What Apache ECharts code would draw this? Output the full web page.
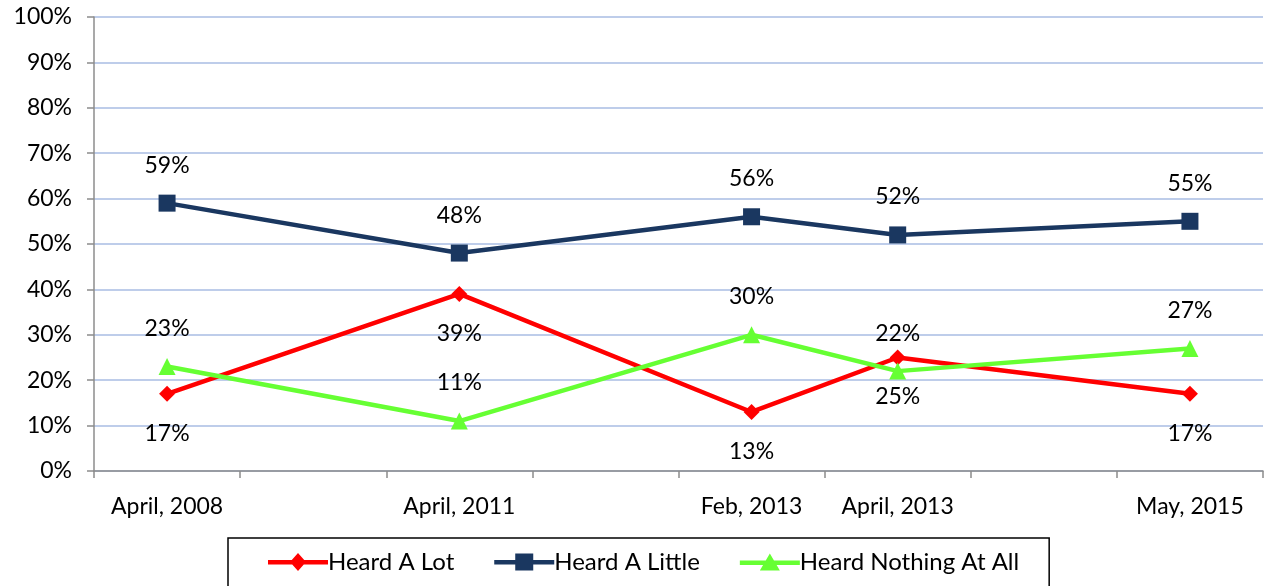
<!DOCTYPE html>
<html>
<head>
<meta charset="utf-8">
<script src="https://cdn.jsdelivr.net/npm/echarts@6/dist/echarts.min.js"></script>
<style>
  html, body { margin: 0; padding: 0; background: #fff; }
  #chart { width: 1267px; height: 586px; }
</style>
</head>
<body>
<div id="chart"></div>
<script>
// date axis: empty slots keep the spacing of the original time scale
const categories = ['April, 2008', '', 'April, 2011', '', 'Feb, 2013', 'April, 2013', '', 'May, 2015']
const heardLot = [17, null, 39, null, 13, 25, null, 17]
const heardLittle = [59, null, 48, null, 56, 52, null, 55]
const heardNothing = [23, null, 11, null, 30, 22, null, 27]
const yTicks = [0, 10, 20, 30, 40, 50, 60, 70, 80, 90, 100]

const font = 'Lato, "Open Sans", sans-serif'
const chart = echarts.init(document.getElementById('chart'))

// legend icons: thick line + marker, like the Excel legend
const bar = 'M0,7H60V11.5H0Z '
const icons = {
  diamond: 'path://' + bar + 'M30,0L38,9L30,18L22,9Z',
  rect: 'path://' + bar + 'M21,0.5H39V17.5H21Z',
  triangle: 'path://' + bar + 'M30,0L40,17H20Z',
}

const labelStyle = (pos, dist) => ({
  show: true,
  position: pos,
  distance: dist,
  formatter: p => p.value + '%',
  color: '#000',
  fontSize: 23,
  fontFamily: font,
})

const makeSeries = (name, data, color, symbol, size, pos, dist) => ({
  name,
  type: 'line',
  data,
  connectNulls: true,
  symbol,
  symbolSize: size,
  lineStyle: { color, width: 4.5 },
  itemStyle: { color },
  label: labelStyle(pos, dist),
  z: 3,
})

chart.setOption({
  animation: false,
  grid: { left: 94, right: 4, top: 17, bottom: 115 },
  xAxis: {
    type: 'category',
    data: categories,
    boundaryGap: true,
    axisLine: { lineStyle: { color: '#8c8c8c', width: 1.5 } },
    axisTick: { show: true, length: 7, interval: 0, lineStyle: { color: '#8c8c8c', width: 1.5 } },
    axisLabel: { color: '#000', fontSize: 23, fontFamily: font, margin: 24, interval: 0 },
  },
  yAxis: {
    type: 'value',
    min: yTicks[0],
    max: yTicks[yTicks.length - 1],
    interval: 10,
    axisLine: { show: true, lineStyle: { color: '#8c8c8c', width: 1.5 } },
    axisTick: { show: true, length: 7, lineStyle: { color: '#8c8c8c', width: 1.5 } },
    axisLabel: { color: '#000', fontSize: 23, fontFamily: font, margin: 22, formatter: v => v + '%' },
    splitLine: { lineStyle: { color: '#a9bde3', width: 1.5 } },
  },
  legend: {
    left: 228,
    top: 538,
    width: 825,
    padding: [12, 30, 20, 40],
    borderColor: '#000',
    borderWidth: 1.5,
    itemWidth: 60,
    itemHeight: 18,
    itemGap: 40,
    textStyle: { color: '#000', fontSize: 24, fontFamily: font, padding: [0, 0, 0, -5] },
    data: [
      { name: 'Heard A Lot', icon: icons.diamond },
      { name: 'Heard A Little', icon: icons.rect },
      { name: 'Heard Nothing At All', icon: icons.triangle },
    ],
  },
  series: [
    makeSeries('Heard A Lot', heardLot, '#ff0000', 'diamond', 16, 'bottom', 20),
    makeSeries('Heard A Little', heardLittle, '#1a3760', 'rect', 17, 'top', 18),
    makeSeries('Heard Nothing At All', heardNothing, '#66ff33', 'triangle', 17, 'top', 18),
  ],
})
</script>
</body>
</html>
